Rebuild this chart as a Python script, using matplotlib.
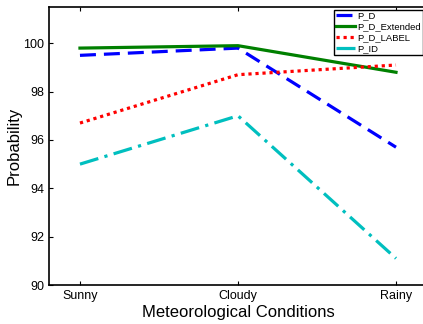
import numpy as np
import matplotlib
matplotlib.use('Agg')
import matplotlib.pyplot as plt

plt.rcParams['font.family'] = ['Liberation Sans', 'DejaVu Sans']

conditions = ['Sunny', 'Cloudy', 'Rainy']
p_d = [99.5, 99.8, 95.7]
p_d_extended = [99.8, 99.9, 98.8]
p_d_label = [96.7, 98.7, 99.1]
p_id = [95.0, 97.0, 91.1]

fig = plt.figure(figsize=(4.23, 3.24), dpi=100)
ax = fig.add_axes([49/423, 39/324, 378.6/423, 278/324])

x = np.arange(len(conditions))
ax.plot(x, p_d, color='#0000ff', linestyle=(0, (5, 2.5)), linewidth=2.3, label='P_D')
ax.plot(x, p_d_extended, color='#008000', linestyle='-', linewidth=2.3, label='P_D_Extended')
ax.plot(x, p_d_label, color='#ff0000', linestyle=(0, (1, 1.2)), linewidth=2.3, label='P_D_LABEL')
ax.plot(x, p_id, color='#00bfbf', linestyle=(0, (6, 2, 1, 2)), linewidth=2.3, label='P_ID')

ax.set_xlim(-0.196, 2.2)
ax.set_ylim(90, 101.5)
ax.set_xticks(x)
ax.set_xticklabels(conditions)
ax.set_yticks([90, 92, 94, 96, 98, 100])
ax.tick_params(direction='in', top=True, right=True, labelsize=9, length=3)
ax.set_xlabel('Meteorological Conditions', fontsize=12, labelpad=2)
ax.set_ylabel('Probability', fontsize=12, labelpad=1)
for s in ax.spines.values():
    s.set_linewidth(1.2)

leg = ax.legend(loc='upper left', bbox_to_anchor=(285/378.6, 0.99), borderaxespad=0,
                fontsize=6.8, handlelength=2.0, handletextpad=0.3, labelspacing=0.2,
                borderpad=0.2, fancybox=False, framealpha=1, edgecolor='black')
leg.get_frame().set_linewidth(1.0)

fig.savefig('out.png', dpi=100)
